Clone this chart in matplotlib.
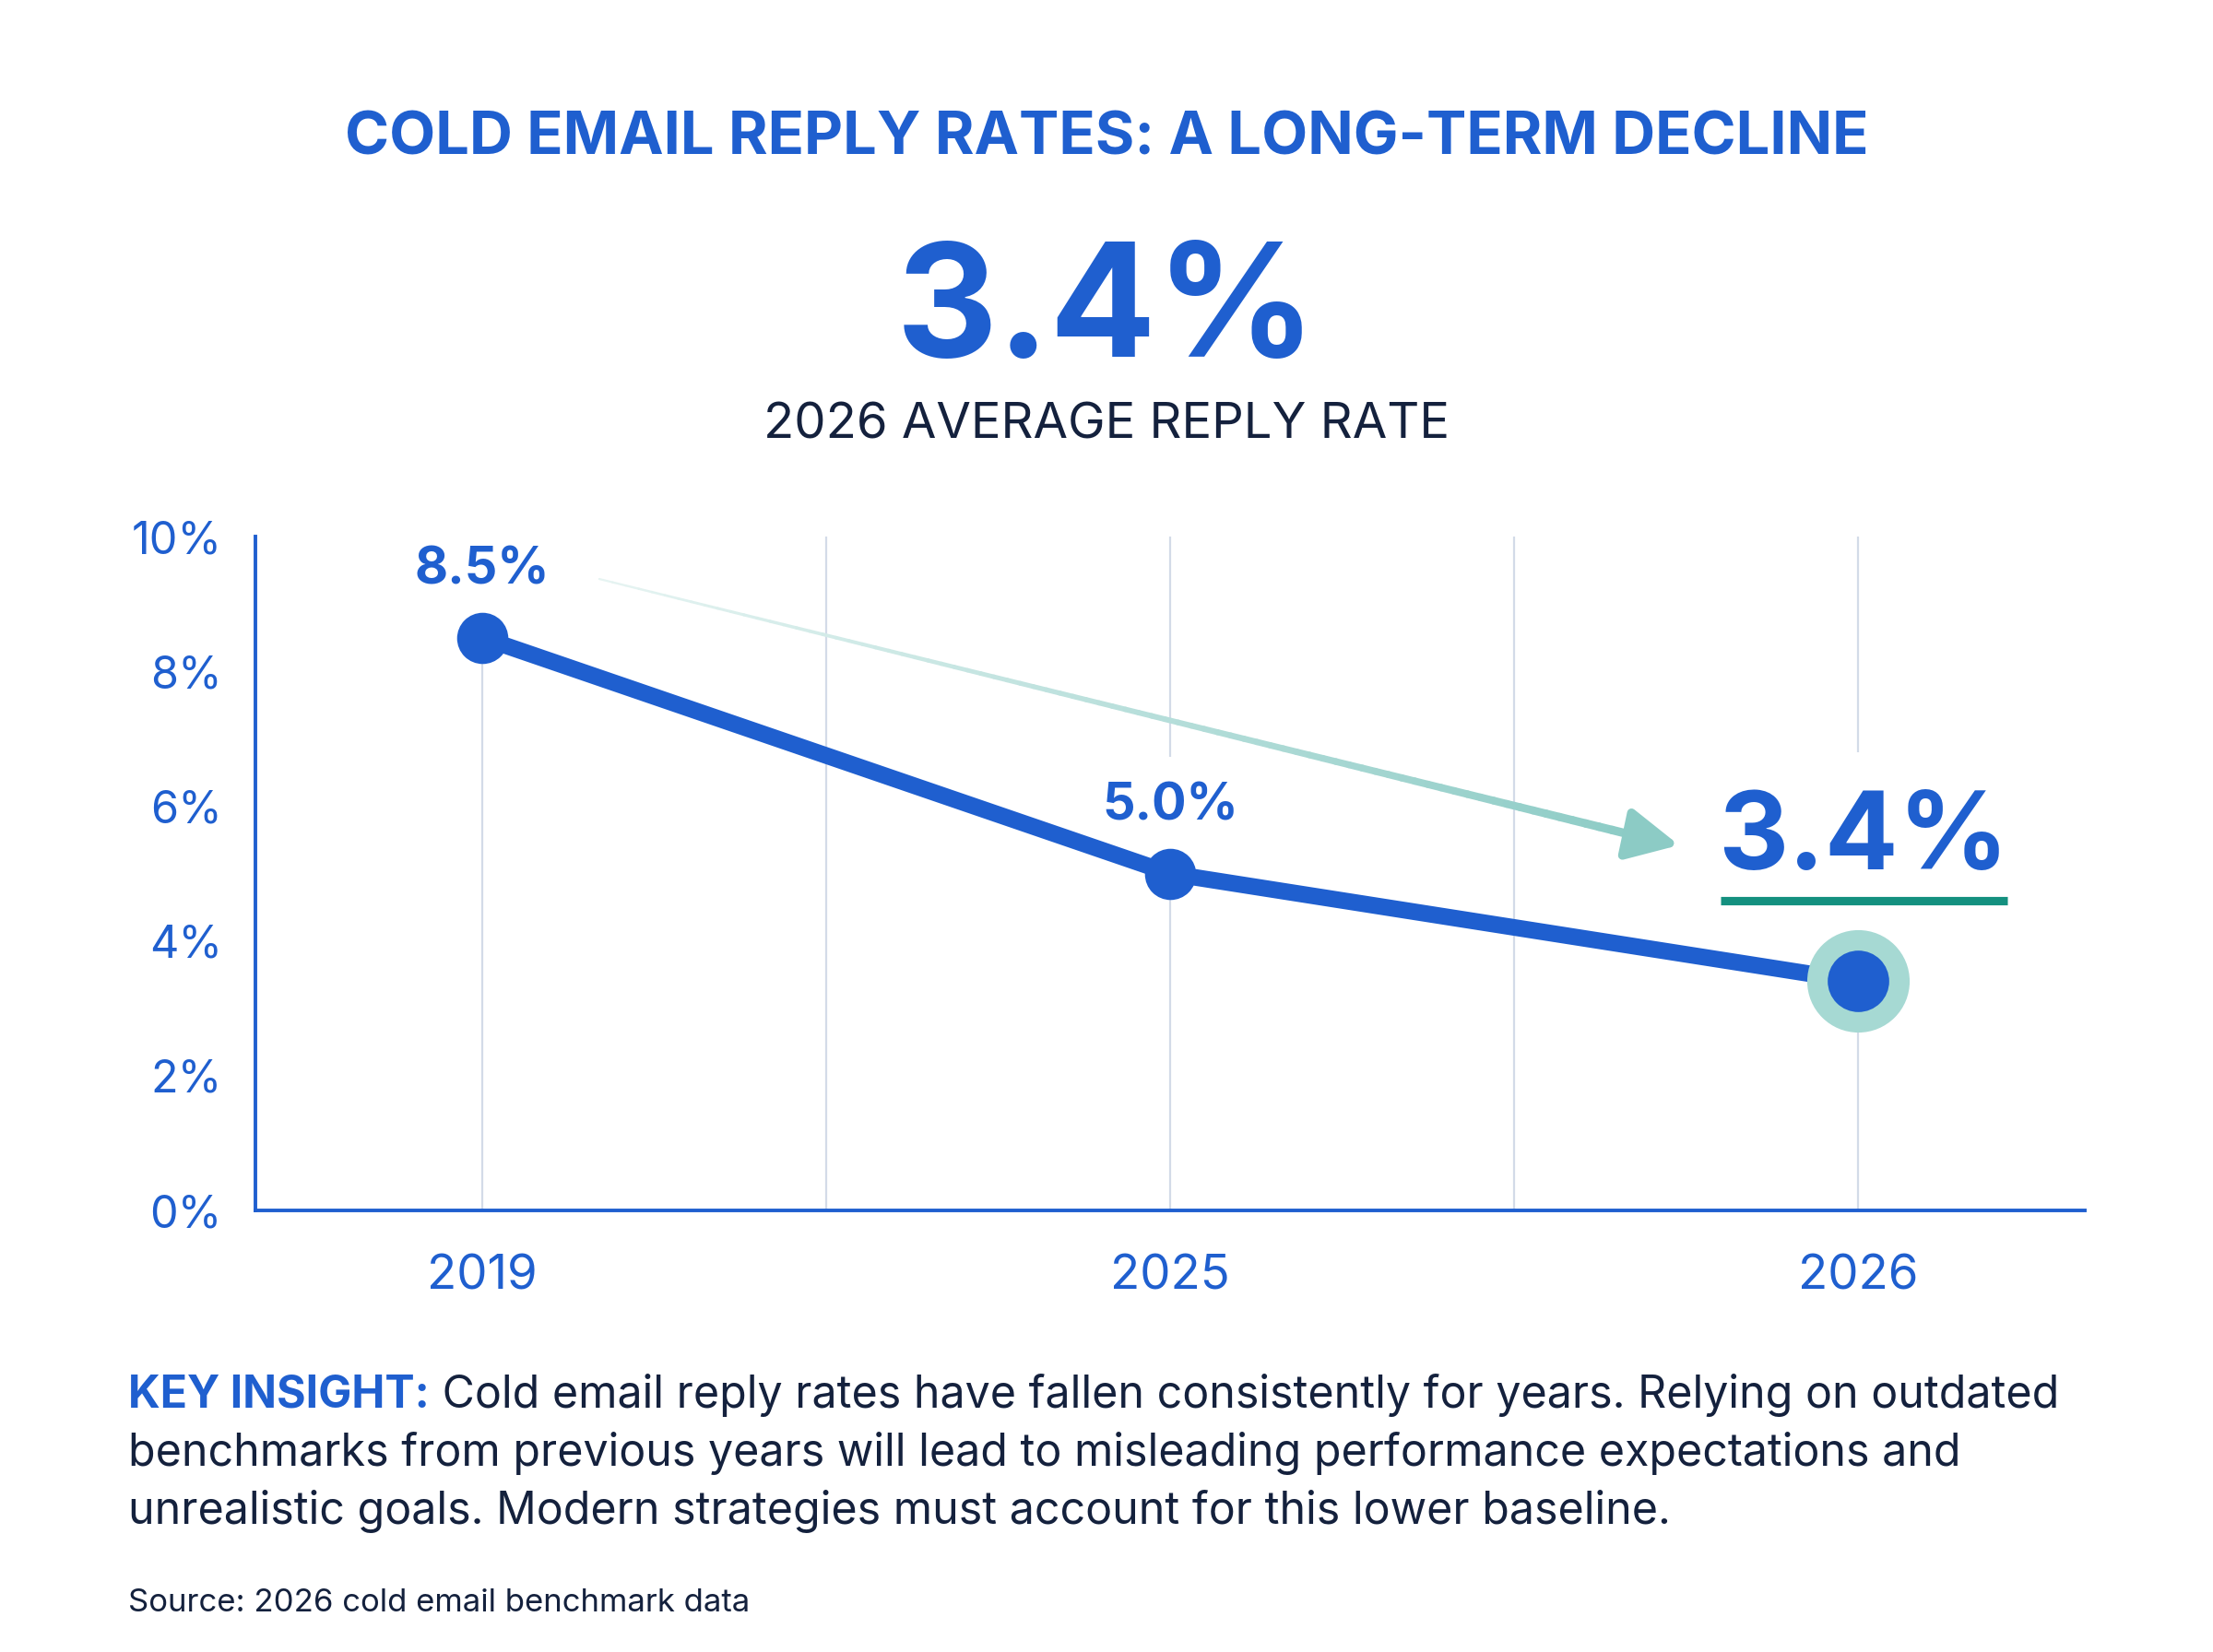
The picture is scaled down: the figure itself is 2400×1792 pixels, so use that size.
import numpy as np
import matplotlib
matplotlib.use("Agg")
import matplotlib.pyplot as plt
from matplotlib.collections import LineCollection
from matplotlib.colors import to_rgb

plt.rcParams['font.family'] = ['Inter', 'DejaVu Sans']

# ---- data ----
years = ["2019", "2025", "2026"]
rates = [8.5, 5.0, 3.4]
rate_labels = ["8.5%", "5.0%", "3.4%"]
yticks = [0, 2, 4, 6, 8, 10]
ytick_labels = ["0%", "2%", "4%", "6%", "8%", "10%"]

title = "COLD EMAIL REPLY RATES: A LONG-TERM DECLINE"
headline = "3.4%"
subheadline = "2026 AVERAGE REPLY RATE"
insight_head = "KEY INSIGHT:"
insight_lines = [
    " Cold email reply rates have fallen consistently for years. Relying on outdated",
    "benchmarks from previous years will lead to misleading performance expectations and",
    "unrealistic goals. Modern strategies must account for this lower baseline.",
]
source = "Source: 2026 cold email benchmark data"

BLUE = "#1f5fcf"
NAVY = "#14213d"
GRID = "#d3dbe8"
TEAL = "#14907f"
TEAL_LIGHT = "#8ccbc5"
HALO = "#a6d9d3"

W, H = 2400, 1792
fig = plt.figure(figsize=(12, 8.96), dpi=200)
fig.patch.set_facecolor("white")

ax = fig.add_axes([277 / W, 1 - 1313 / H, (2261 - 277) / W, (1313 - 582) / H])
x = np.arange(len(years))
ax.set_xlim(-0.33, 2.33)
ax.set_ylim(0, 10)

for s in ["top", "right"]:
    ax.spines[s].set_visible(False)
for s in ["left", "bottom"]:
    ax.spines[s].set_color(BLUE)
    ax.spines[s].set_linewidth(1.4)

ax.set_yticks(yticks)
ax.set_yticklabels(ytick_labels)
ax.set_xticks(x)
ax.set_xticklabels(years)
ax.set_xticks([0.5, 1.5], minor=True)
ax.tick_params(axis="both", which="both", length=0, colors=BLUE)
ax.tick_params(axis="y", pad=13, labelsize=17.5)
ax.tick_params(axis="x", pad=17, labelsize=19)
ax.grid(True, axis="x", which="both", color=GRID, lw=0.8, zorder=1)
ax.set_axisbelow(True)

# main line
ax.plot(x, rates, color=BLUE, lw=6.5, solid_capstyle="round", zorder=3)
ax.scatter(x[-1:], rates[-1:], s=40 ** 2, color=HALO, zorder=4, linewidths=0)
ax.scatter(x[:-1], rates[:-1], s=20 ** 2, color=BLUE, zorder=5, linewidths=0)
ax.scatter(x[-1:], rates[-1:], s=24 ** 2, color=BLUE, zorder=5, linewidths=0)

# data labels (white boxes hide gridlines behind them)
box = dict(boxstyle="square,pad=0.5", fc="white", ec="none")
ax.annotate(rate_labels[0], (x[0], rates[0]), xytext=(0, 17), textcoords="offset points",
            ha="center", va="bottom", fontsize=20, fontweight="bold", color=BLUE,
            bbox=box, zorder=2.5)
ax.annotate(rate_labels[1], (x[1], rates[1]), xytext=(0, 17), textcoords="offset points",
            ha="center", va="bottom", fontsize=20, fontweight="bold", color=BLUE,
            bbox=box, zorder=2.5)
ax.annotate(rate_labels[2], (x[2], rates[2]), xytext=(2, 35), textcoords="offset points",
            ha="center", va="bottom", fontsize=42.5, fontweight="bold", color=BLUE,
            bbox=dict(boxstyle="square,pad=0.35", fc="white", ec="none"), zorder=2.5)
ax.plot([x[2] - 0.2, x[2] + 0.218], [rates[2] + 1.2, rates[2] + 1.2], color=TEAL, lw=3.3,
        solid_capstyle="butt", zorder=6)

# gradient trend arrow
x0, y0 = 0.17, 9.37
x1, y1 = 1.70, 5.50
n = 80
xs = np.linspace(x0, x1, n + 1)
ys = np.linspace(y0, y1, n + 1)
segs = [[(xs[i], ys[i]), (xs[i + 1], ys[i + 1])] for i in range(n)]
c0 = np.array(to_rgb("#e6f4f2"))
c1 = np.array(to_rgb(TEAL_LIGHT))
t = np.linspace(0, 1, n)
cols = [tuple(c0 + (c1 - c0) * ti) for ti in t]
widths = 0.8 + 2.6 * t
lc = LineCollection(segs, colors=cols, linewidths=widths, capstyle="round", zorder=2.6)
ax.add_collection(lc)
ax.annotate("", xy=(1.74, 5.42), xytext=(x1 - 0.02, y1 + 0.05),
            arrowprops=dict(arrowstyle="-|>,head_length=1.7,head_width=0.85",
                            color=TEAL_LIGHT, lw=3.4, shrinkA=0, shrinkB=0), zorder=2.6)

# header texts
fig.text(0.5, 1 - 150 / H, title, ha="center", va="center", fontsize=23.4,
         fontweight="bold", color=BLUE)
fig.text(0.5, 1 - 342 / H, headline, ha="center", va="center", fontsize=61.5,
         fontweight="bold", color=BLUE)
fig.text(0.5, 1 - 462 / H, subheadline, ha="center", va="center", fontsize=19.6,
         color=NAVY)

# insight paragraph
fs = 17.4
t0 = fig.text(139 / W, 1 - 1513 / H, insight_head, ha="left", va="center", fontsize=fs,
              fontweight="bold", color=BLUE)
fig.canvas.draw()
bb = t0.get_window_extent()
fig.text(bb.x1 / fig.bbox.width, 1 - 1513 / H, insight_lines[0], ha="left", va="center",
         fontsize=fs, color=NAVY)
fig.text(139 / W, 1 - 1576 / H, insight_lines[1], ha="left", va="center", fontsize=fs,
         color=NAVY)
fig.text(139 / W, 1 - 1639 / H, insight_lines[2], ha="left", va="center", fontsize=fs,
         color=NAVY)
fig.text(139 / W, 1 - 1739 / H, source, ha="left", va="center", fontsize=12.5, color=NAVY)

fig.savefig("out.png", dpi=200, facecolor="white")
